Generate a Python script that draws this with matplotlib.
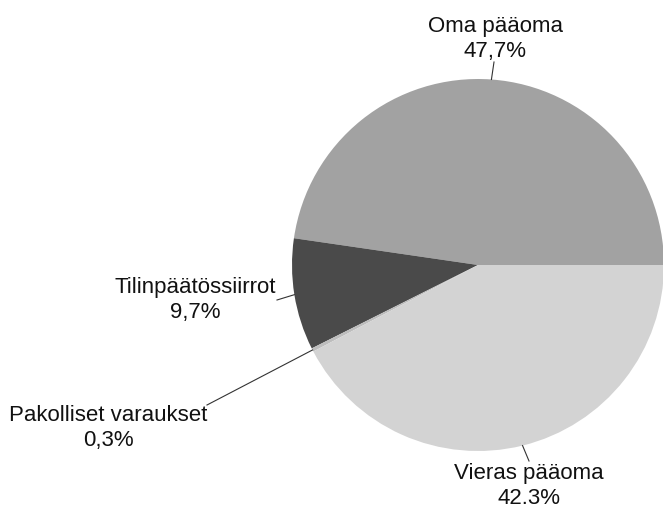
import numpy as np
import matplotlib.pyplot as plt

plt.rcParams['font.family'] = ['Liberation Sans', 'DejaVu Sans']

# data
labels = ["Oma pääoma", "Tilinpäätössiirrot", "Pakolliset varaukset", "Vieras pääoma"]
pct_text = ["47,7%", "9,7%", "0,3%", "42.3%"]
values = [47.7, 9.7, 0.3, 42.3]
colors = ["#a2a2a2", "#4a4a4a", "#bdbdbd", "#d3d3d3"]

# layout (pixels, origin bottom-left)
W, H = 663, 511
center = (478, 246)
radius = 186
text_pos = [(495, 472), (195, 211), (108, 83), (529, 25)]
line_end = [(494, 449), (277, 211), (207, 106), (529, 50)]

fig = plt.figure(figsize=(W / 100, H / 100), dpi=100)
ax = fig.add_axes([0, 0, 1, 1])

wedges, _ = ax.pie(values, colors=colors, startangle=0, counterclock=True,
                   center=center, radius=radius, frame=True,
                   wedgeprops=dict(linewidth=0))
ax.set_xlim(0, W)
ax.set_ylim(0, H)
ax.set_aspect('equal')
ax.axis('off')

for w, lab, p, tp, le in zip(wedges, labels, pct_text, text_pos, line_end):
    mid = np.deg2rad((w.theta1 + w.theta2) / 2)
    x0 = center[0] + radius * np.cos(mid)
    y0 = center[1] + radius * np.sin(mid)
    ax.plot([x0, le[0]], [y0, le[1]], color="#333333", lw=0.8)
    ax.text(tp[0], tp[1], f"{lab}\n{p}", ha='center', va='center',
            fontsize=16, linespacing=1.2, color="#111111")

fig.savefig("out.png", dpi=100)
